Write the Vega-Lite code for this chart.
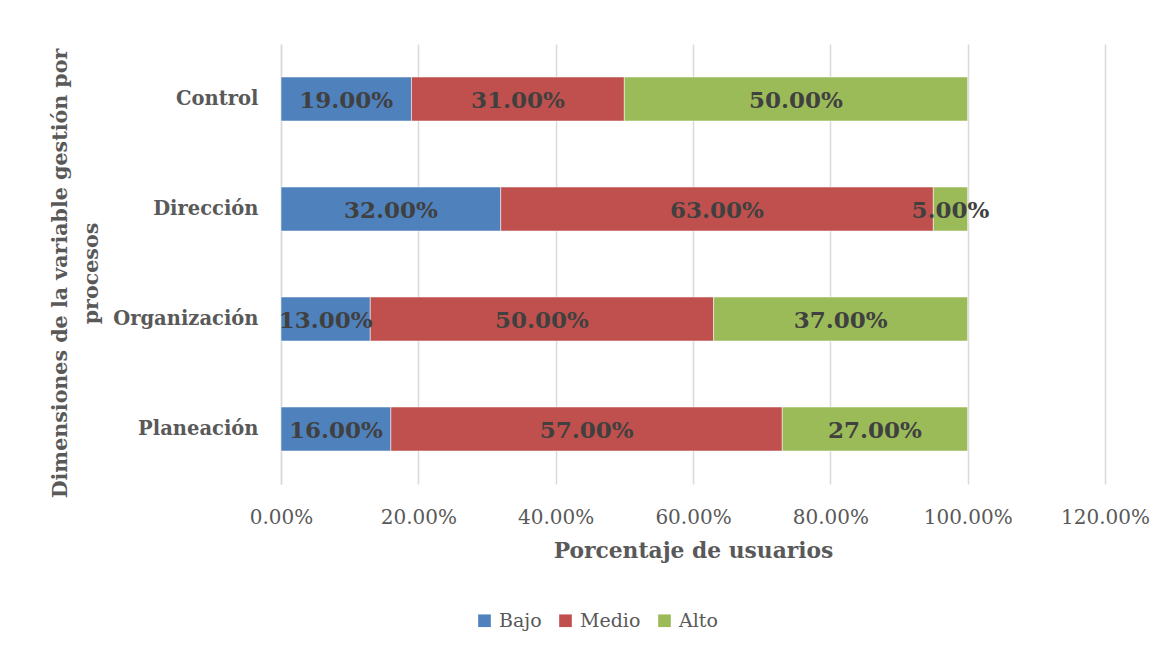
{
  "$schema": "https://vega.github.io/schema/vega-lite/v6.json",
  "autosize": {"type": "none"},
  "width": 824,
  "height": 440,
  "padding": {"left": 281, "top": 44, "right": 62, "bottom": 169},
  "background": "white",
  "config": {
    "view": {"stroke": null},
    "font": "DejaVu Serif"
  },
  "data": {
    "values": [
      {"dim": "Control", "nivel": "Bajo", "orden": 1, "valor": 0.19},
      {"dim": "Control", "nivel": "Medio", "orden": 2, "valor": 0.31},
      {"dim": "Control", "nivel": "Alto", "orden": 3, "valor": 0.50},
      {"dim": "Dirección", "nivel": "Bajo", "orden": 1, "valor": 0.32},
      {"dim": "Dirección", "nivel": "Medio", "orden": 2, "valor": 0.63},
      {"dim": "Dirección", "nivel": "Alto", "orden": 3, "valor": 0.05},
      {"dim": "Organización", "nivel": "Bajo", "orden": 1, "valor": 0.13},
      {"dim": "Organización", "nivel": "Medio", "orden": 2, "valor": 0.50},
      {"dim": "Organización", "nivel": "Alto", "orden": 3, "valor": 0.37},
      {"dim": "Planeación", "nivel": "Bajo", "orden": 1, "valor": 0.16},
      {"dim": "Planeación", "nivel": "Medio", "orden": 2, "valor": 0.57},
      {"dim": "Planeación", "nivel": "Alto", "orden": 3, "valor": 0.27}
    ]
  },
  "transform": [
    {"stack": "valor", "groupby": ["dim"], "sort": [{"field": "orden", "order": "ascending"}], "as": ["v0", "v1"]},
    {"calculate": "(datum.v0 + datum.v1) / 2", "as": "vmid"}
  ],
  "encoding": {
    "y": {
      "field": "dim",
      "type": "nominal",
      "sort": ["Control", "Dirección", "Organización", "Planeación"],
      "scale": {"paddingInner": 0.6, "paddingOuter": 0.3},
      "axis": {
        "title": ["Dimensiones de la variable gestión por", "procesos"],
        "titleFont": "DejaVu Serif",
        "titleFontSize": 20.6,
        "titleFontWeight": "bold",
        "titleColor": "#595959",
        "titleAngle": -90,
        "titleAlign": "center",
        "titleBaseline": "alphabetic",
        "titleLineHeight": 31,
        "titleX": -215,
        "titleY": 229,
        "labelFont": "DejaVu Serif",
        "labelFontSize": 19.5,
        "labelFontWeight": "bold",
        "labelColor": "#595959",
        "labelPadding": 23,
        "ticks": false,
        "domain": true,
        "domainColor": "#d9d9d9",
        "domainWidth": 1.5
      }
    }
  },
  "layer": [
    {
      "mark": {"type": "bar", "stroke": "white", "strokeWidth": 0.5},
      "encoding": {
        "x": {
          "field": "v0",
          "type": "quantitative",
          "scale": {"domain": [0, 1.2], "nice": false},
          "axis": {
            "values": [0, 0.2, 0.4, 0.6, 0.8, 1.0, 1.2],
            "format": ".2%",
            "title": "Porcentaje de usuarios",
            "titleFont": "DejaVu Serif",
            "titleFontSize": 21.8,
            "titleFontWeight": "bold",
            "titleColor": "#595959",
            "titlePadding": 13,
            "labelFont": "DejaVu Serif",
            "labelFontSize": 20,
            "labelColor": "#595959",
            "labelPadding": 23,
            "labelFlush": false,
            "ticks": false,
            "domain": false,
            "grid": true,
            "gridColor": "#d9d9d9",
            "gridWidth": 1.5
          }
        },
        "x2": {"field": "v1"},
        "color": {
          "field": "nivel",
          "type": "nominal",
          "sort": ["Bajo", "Medio", "Alto"],
          "scale": {"domain": ["Bajo", "Medio", "Alto"], "range": ["#4F81BD", "#C0504D", "#9BBB59"]},
          "legend": {
            "title": null,
            "orient": "none",
            "direction": "horizontal",
            "legendX": 194,
            "legendY": 567,
            "symbolType": "square",
            "symbolSize": 160,
            "symbolStrokeWidth": 0,
            "labelFont": "DejaVu Serif",
            "labelFontSize": 19,
            "labelColor": "#595959",
            "columnPadding": 14,
            "labelOffset": 5
          }
        }
      }
    },
    {
      "mark": {"type": "text", "font": "DejaVu Serif", "fontSize": 23, "fontWeight": "bold", "color": "#404040", "baseline": "middle", "align": "center", "dy": 2},
      "encoding": {
        "x": {"field": "vmid", "type": "quantitative"},
        "text": {"field": "valor", "type": "quantitative", "format": ".2%"}
      }
    }
  ]
}
